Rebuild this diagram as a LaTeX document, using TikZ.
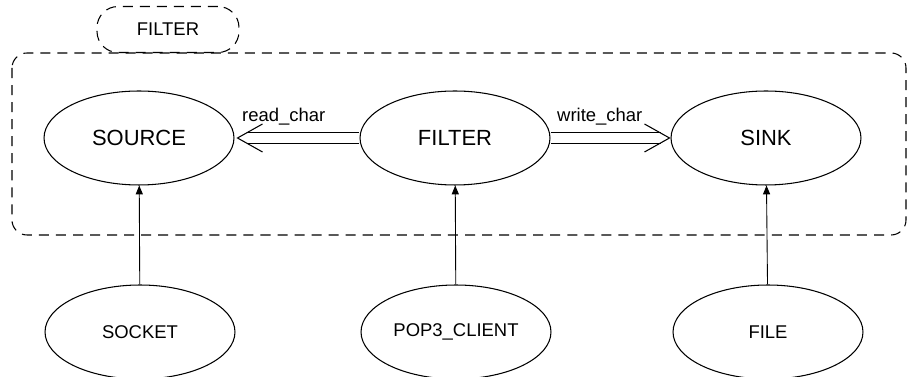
\documentclass[tikz,border=0pt]{standalone}
\usepackage{fontspec}
\setmainfont{Liberation Sans}
\usetikzlibrary{arrows.meta,calc,shapes.geometric}
\tikzset{
  cls/.style={ellipse,draw,line width=0.6pt,minimum width=3.8cm,minimum height=1.88cm,
    inner sep=0pt,font=\fontsize{12.5}{14}\selectfont},
  leaf/.style={cls,font=\fontsize{10.5}{12}\selectfont},
  cluster/.style={draw,line width=0.6pt,dash pattern=on 5.7pt off 4pt,rounded corners=0.3cm},
  client/.style={line width=0.6pt,double,double distance=0.2cm},
  barb/.style={line width=0.6pt},
  inherit/.style={-{Triangle[length=5pt,width=4pt]},line width=0.5pt},
  lbl/.style={font=\fontsize{10.5}{12}\selectfont}
}
\begin{document}
\begin{tikzpicture}[x=0.02cm,y=-0.02cm]
  \useasboundingbox (0,0) rectangle (909,377);

  % cluster and its tag
  \draw[cluster] (12,53) rectangle (906,235);
  \node[cluster,rounded corners=0.42cm,minimum width=2.84cm,minimum height=0.92cm,
    font=\fontsize{10.5}{12}\selectfont] (tag) at (168,29.5) {\raisebox{-2.5pt}{FILTER}};

  % classes inside the cluster
  \node[cls] (source) at (139,138) {SOURCE};
  \node[cls] (filter) at (455,138) {FILTER};
  \node[cls] (sink) at (766,138) {SINK};

  % classes below
  \node[leaf] (socket) at (140,332) {SOCKET};
  \node[leaf] (pop) at (456,332) {POP3\_CLIENT};
  \node[leaf] (file) at (768,332) {FILE};

  % client links
  \draw[client] (filter.west) -- ($(source.east)+(13,0)$);
  \draw[barb] ($(source.east)+(28,-14)$) -- ($(source.east)+(3,0)$) -- ($(source.east)+(28,14)$);
  \node[lbl,anchor=west] (rd) at (236,117) {read\_char};

  \draw[client] (filter.east) -- ($(sink.west)+(-10,0)$);
  \draw[barb] ($(sink.west)+(-26,-14)$) -- ($(sink.west)+(-1,0)$) -- ($(sink.west)+(-26,14)$);
  \node[lbl,anchor=west] (wr) at (551,117) {write\_char};

  % inheritance
  \draw[inherit] (socket) -- (source);
  \draw[inherit] (pop) -- (filter);
  \draw[inherit] (file) -- (sink);
\end{tikzpicture}
\end{document}
